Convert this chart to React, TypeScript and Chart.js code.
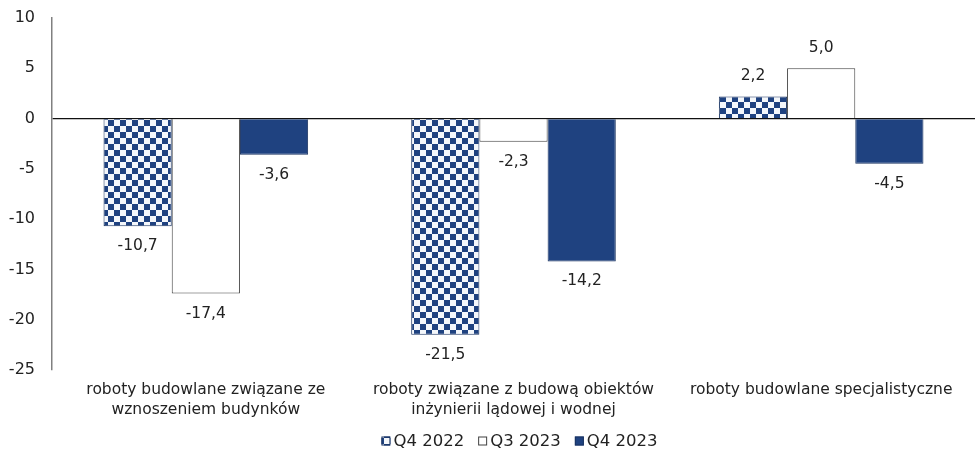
import React, { useEffect, useRef } from "react";
import { Chart, registerables } from "chart.js";

Chart.register(...registerables);

const categories: string[][] = [
  ["roboty budowlane związane ze", "wznoszeniem budynków"],
  ["roboty związane z budową obiektów", "inżynierii lądowej i wodnej"],
  ["roboty budowlane specjalistyczne"],
];
const seriesNames = ["Q4 2022", "Q3 2023", "Q4 2023"];
const q4_2022 = [-10.7, -21.5, 2.2];
const q3_2023 = [-17.4, -2.3, 5.0];
const q4_2023 = [-3.6, -14.2, -4.5];
const yMin = -25;
const yMax = 10;
const yStep = 5;

const NAVY = "#1f4280";
const NAVY_EDGE = "#1a3360";
const FONT = '"DejaVu Sans", sans-serif';

function makeChecker(): CanvasPattern | string {
  const c = document.createElement("canvas");
  c.width = 12;
  c.height = 12;
  const ctx = c.getContext("2d");
  if (!ctx) return NAVY;
  ctx.fillStyle = "#f4f7fb";
  ctx.fillRect(0, 0, 12, 12);
  ctx.fillStyle = NAVY;
  ctx.fillRect(0, 0, 6, 6);
  ctx.fillRect(6, 6, 6, 6);
  const p = ctx.createPattern(c, "repeat");
  return p || NAVY;
}

const fmt = (v: number) => v.toFixed(1).replace(".", ",");

// Value labels below negative bars and above positive ones
const valueLabels = {
  id: "valueLabels",
  afterDatasetsDraw(chart: any) {
    const ctx = chart.ctx;
    ctx.save();
    ctx.font = `15.5px ${FONT}`;
    ctx.fillStyle = "#222";
    ctx.textAlign = "center";
    ctx.textBaseline = "middle";
    chart.data.datasets.forEach((ds: any, di: number) => {
      const meta = chart.getDatasetMeta(di);
      meta.data.forEach((el: any, i: number) => {
        const v = ds.data[i] as number;
        const y = v < 0 ? el.y + 20 : el.y - 20;
        ctx.fillText(fmt(v), el.x, y);
      });
    });
    ctx.restore();
  },
};

// Legend row at the bottom, centred under the plot area
const bottomLegend = {
  id: "bottomLegend",
  afterDraw(chart: any) {
    const ctx = chart.ctx;
    const ds = chart.data.datasets;
    const box = 9;
    const gapBox = 3;
    const gapItem = 14;
    ctx.save();
    ctx.font = `16.5px ${FONT}`;
    ctx.textBaseline = "middle";
    const widths = ds.map((d: any) => box + gapBox + ctx.measureText(d.label).width);
    const total = widths.reduce((a: number, b: number) => a + b, 0) + gapItem * (ds.length - 1);
    const area = chart.chartArea;
    let x = (area.left + area.right) / 2 - total / 2 + 6;
    const y = 441;
    ds.forEach((d: any, i: number) => {
      ctx.fillStyle = d.backgroundColor;
      ctx.fillRect(x, y - box / 2, box, box);
      ctx.strokeStyle = d.borderColor;
      ctx.lineWidth = 1;
      ctx.strokeRect(x + 0.5, y - box / 2 + 0.5, box - 1, box - 1);
      ctx.fillStyle = "#222";
      ctx.textAlign = "left";
      ctx.fillText(d.label, x + box + gapBox, y + 1);
      x += widths[i] + gapItem;
    });
    ctx.restore();
  },
};

export default function App() {
  const ref = useRef<HTMLCanvasElement | null>(null);

  useEffect(() => {
    if (!ref.current) return;
    const checker = makeChecker();
    const chart = new Chart(ref.current, {
      type: "bar",
      data: {
        labels: categories,
        datasets: [
          {
            label: seriesNames[0],
            data: q4_2022,
            backgroundColor: checker as any,
            borderColor: NAVY_EDGE,
            borderWidth: 1,
          },
          {
            label: seriesNames[1],
            data: q3_2023,
            backgroundColor: "#ffffff",
            borderColor: "#404040",
            borderWidth: 1,
          },
          {
            label: seriesNames[2],
            data: q4_2023,
            backgroundColor: NAVY,
            borderColor: NAVY_EDGE,
            borderWidth: 1,
          },
        ],
      },
      options: {
        animation: false,
        responsive: false,
        maintainAspectRatio: false,
        layout: { padding: { top: 18, right: 0, left: 0, bottom: 34 } },
        datasets: { bar: { barPercentage: 1, categoryPercentage: 0.665 } },
        scales: {
          x: {
            grid: { display: false, drawTicks: false },
            border: { display: false },
            ticks: {
              color: "#222",
              font: { family: FONT, size: 15.5, lineHeight: 1.29 },
              padding: 10,
              maxRotation: 0,
              autoSkip: false,
            },
            afterFit: (s: any) => {
              s.height = 50;
            },
          },
          y: {
            min: yMin,
            max: yMax,
            border: { display: true, color: "#808080", width: 1.5 },
            grid: {
              drawTicks: false,
              color: (c: any) => (c.tick && c.tick.value === 0 ? "#111" : "rgba(0,0,0,0)"),
              lineWidth: 1.2,
            },
            ticks: {
              stepSize: yStep,
              color: "#222",
              padding: 17,
              font: { family: FONT, size: 16 },
            },
            afterFit: (s: any) => {
              s.width = 52;
              s.paddingTop = 0;
              s.paddingBottom = 0;
            },
          },
        },
        plugins: {
          legend: { display: false },
          tooltip: { enabled: false },
        },
      },
      plugins: [valueLabels, bottomLegend],
    });
    return () => chart.destroy();
  }, []);

  return (
    <div style={{ position: "fixed", left: 0, top: 0, width: 975, height: 454, background: "#fff" }}>
      <canvas ref={ref} width={975} height={454} style={{ display: "block" }} />
    </div>
  );
}
